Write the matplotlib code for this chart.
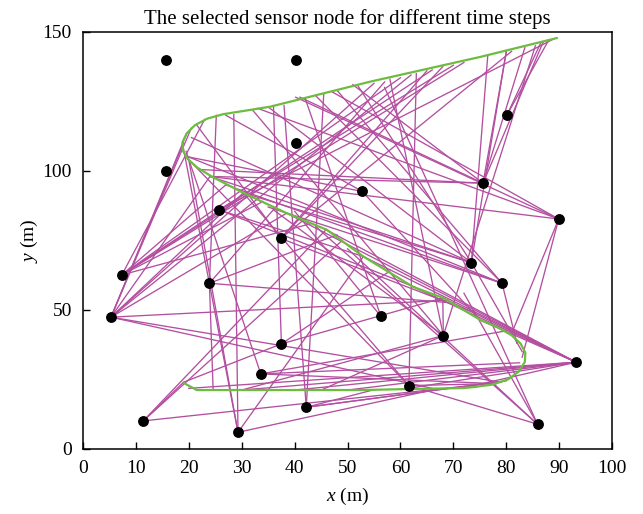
import matplotlib
matplotlib.use("Agg")
import matplotlib.pyplot as plt

plt.rcParams['font.family'] = ['Liberation Serif', 'DejaVu Serif']
plt.rcParams['mathtext.fontset'] = 'custom'
plt.rcParams['mathtext.rm'] = 'Liberation Serif'
plt.rcParams['mathtext.it'] = 'Liberation Serif:italic'

# Sensor node positions
sensor_x = [15.7, 40.2, 80.1, 40.2, 15.7, 75.6, 52.8, 25.7, 89.9, 37.4, 73.4, 7.35, 23.9,
            79.2, 5.3, 56.3, 68.1, 37.5, 93.2, 33.6, 61.6, 11.4, 42.2, 29.3, 85.9]
sensor_y = [140, 140, 120, 110, 100, 95.6, 92.6, 86, 82.7, 75.7, 67, 62.6, 59.6,
            59.6, 47.4, 47.7, 40.8, 37.8, 31.2, 27, 22.8, 10.1, 15, 6, 8.9]

# Target trajectory
traj_x = [89.6, 75.1, 54.3, 44.2, 35.4, 30.5, 26.5, 23.5, 21.2, 19.6, 18.8, 18.9, 19.8,
          21.6, 24.5, 30.3, 38.5, 46.1, 53.0, 62.4, 68.1, 75.1, 78.5, 81.0, 82.7, 83.6,
          83.5, 82.4, 80.3, 77.2, 74.0, 71.9, 62.4, 53.0, 41.1, 29.7, 21.5, 19.0]
traj_y = [147.8, 141.0, 132.1, 127.3, 123.1, 121.6, 120.4, 118.8, 116.5, 113.5, 110.3,
          107.2, 104.3, 101.2, 97.8, 92.1, 84.8, 78.8, 69.2, 58.3, 54.3, 46.4, 43.6, 40.9,
          37.9, 34.6, 31.3, 27.9, 25.0, 23.1, 22.3, 21.9, 21.6, 21.2, 21.2, 21.2, 21.2, 23.8]

# Target position at each time step and selected sensor index
link_x = [19.0, 19.5, 20.5, 24.0, 30.3, 38.5, 55.0, 62.0, 69.0, 66.0, 79.0,
          23.0, 27.0, 31.0, 34.0, 43.0, 60.0, 66.0, 72.0,
          25.2, 24.6, 70.0, 57.0, 48.0,
          70.0, 89.0, 63.0, 53.0,
          21.5, 65.0, 81.0, 74.0,
          40.2, 24.0, 81.0, 83.0, 33.0, 47.0,
          38.5, 46.0, 53.0, 62.4, 68.0, 75.0, 30.0, 40.0, 50.0, 60.0, 72.0, 20.0,
          64.0, 50.0, 57.0, 72.0, 44.0,
          38.0, 45.5, 80.0, 70.0, 55.0,
          19.0, 20.0, 28.5, 67.0, 53.0,
          19.0, 79.0, 46.0, 49.0,
          19.5, 78.0, 82.5, 80.0,
          19.0, 68.0, 58.0,
          68.0, 45.0, 30.0, 85.5, 36.0,
          40.0,
          76.5, 80.0, 24.0, 30.3, 20.5, 35.0, 83.0,
          82.0, 20.0, 27.0, 35.0, 44.0,
          80.0, 83.5, 87.0, 24.0, 22.0, 41.0, 51.0,
          27.0, 20.0, 75.0,
          86.5, 88.0,
          20.0, 30.3, 78.0,
          48.0, 52.0, 58.0, 63.0, 36.0, 42.0, 68.0, 32.0]
link_y = [110.0, 113.0, 115.5, 98.0, 92.1, 84.8, 131.5, 134.5, 53.5, 21.8, 24.0,
          118.5, 95.0, 91.5, 89.0, 81.0, 133.5, 136.3, 139.0,
          120.0, 21.2, 52.5, 132.0, 77.0,
          138.0, 147.5, 58.0, 69.2,
          116.5, 136.0, 143.0, 49.0,
          126.5, 98.0, 41.5, 33.0, 122.5, 128.5,
          84.8, 78.8, 69.2, 58.3, 54.3, 46.4, 21.2, 21.2, 21.2, 21.4, 22.0, 21.8,
          21.5, 72.0, 130.0, 56.0, 80.0,
          123.5, 127.5, 24.5, 22.0, 21.3,
          108.0, 104.0, 120.2, 21.6, 69.2,
          24.0, 24.0, 79.0, 75.0,
          107.0, 23.5, 31.0, 42.5,
          24.0, 54.3, 64.0,
          54.3, 21.2, 21.2, 145.0, 86.0,
          85.5,
          141.5, 143.0, 98.0, 92.1, 112.0, 123.0, 35.0,
          38.0, 105.0, 95.0, 87.0, 127.0,
          142.8, 144.3, 146.5, 98.0, 100.5, 126.5, 131.0,
          120.0, 105.0, 46.4,
          146.0, 147.0,
          104.0, 92.1, 23.5,
          129.0, 130.5, 133.0, 135.0, 123.5, 126.0, 137.5, 122.0]
link_s = [14, 14, 14, 14, 14, 14, 14, 14, 14, 14, 14,
          11, 11, 11, 11, 11, 11, 11, 11,
          12, 12, 12, 12, 12,
          7, 7, 7, 7,
          9, 9, 9, 9,
          8, 8, 8, 8, 8, 8,
          18, 18, 18, 18, 18, 18, 18, 18, 18, 18, 18, 18,
          24, 24, 24, 24, 24,
          22, 22, 22, 22, 22,
          23, 23, 23, 23, 23,
          21, 21, 21, 21,
          19, 19, 19, 19,
          17, 17, 17,
          16, 16, 16, 16, 16,
          15,
          10, 10, 10, 10, 10, 10, 10,
          13, 13, 13, 13, 13,
          5, 5, 5, 5, 5, 5, 5,
          6, 6, 6,
          2, 2,
          20, 20, 20,
          13, 10, 16, 20, 17, 15, 9, 16]

x_ticks = [0, 10, 20, 30, 40, 50, 60, 70, 80, 90, 100]
y_ticks = [0, 50, 100, 150]

fig = plt.figure(figsize=(6.43, 5.14), dpi=100)
ax = fig.add_axes([0.129, 0.1265, 0.823, 0.8115])

link_color = '#b34fa0'
for tx, ty, s in zip(link_x, link_y, link_s):
    ax.plot([tx, sensor_x[s]], [ty, sensor_y[s]], color=link_color, lw=0.95, zorder=2)

ax.plot(traj_x, traj_y, color='#6cbd3f', lw=1.6, zorder=3, solid_capstyle='round')
ax.plot(sensor_x, sensor_y, 'o', color='black', markersize=6.8, zorder=4)

ax.set_xlim(0, 100)
ax.set_ylim(0, 150)
ax.set_xticks(x_ticks)
ax.set_yticks(y_ticks)
ax.tick_params(direction='in', length=5, width=1, labelsize=14, pad=8, top=False, right=False)
for sp in ax.spines.values():
    sp.set_linewidth(1.1)
ax.set_title('The selected sensor node for different time steps', fontsize=15, pad=6)
ax.set_xlabel('$x$ (m)', fontsize=14, labelpad=6)
ax.set_ylabel('$y$ (m)', fontsize=14, labelpad=2)

fig.savefig('out.png', dpi=100)
